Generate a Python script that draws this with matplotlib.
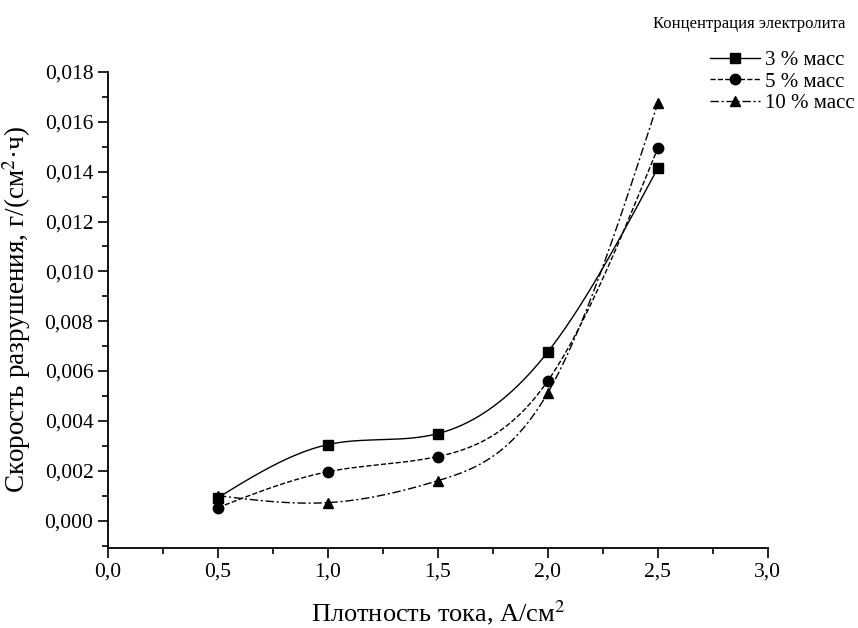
import numpy as np
import matplotlib.pyplot as plt
from matplotlib.ticker import MultipleLocator, FuncFormatter

# current density, A/cm2
current_density = [0.5, 1.0, 1.5, 2.0, 2.5]
# destruction rate, g/(cm2*h)
rate_3 = [0.00092, 0.00305, 0.00349, 0.00677, 0.01415]
rate_5 = [0.00052, 0.00196, 0.00257, 0.00561, 0.01495]
rate_10 = [0.00100, 0.00072, 0.00160, 0.00513, 0.01676]
labels = ['3 % масс', '5 % масс', '10 % масс']


def natural_spline(x, y, n=200):
    # natural cubic spline through the measured points (smooth line like Origin)
    x = np.asarray(x, float)
    y = np.asarray(y, float)
    k = len(x)
    h = np.diff(x)
    A = np.zeros((k, k))
    b = np.zeros(k)
    A[0, 0] = A[-1, -1] = 1
    for i in range(1, k - 1):
        A[i, i - 1] = h[i - 1]
        A[i, i] = 2 * (h[i - 1] + h[i])
        A[i, i + 1] = h[i]
        b[i] = 3 * ((y[i + 1] - y[i]) / h[i] - (y[i] - y[i - 1]) / h[i - 1])
    c = np.linalg.solve(A, b)
    xs = np.linspace(x[0], x[-1], n)
    idx = np.clip(np.searchsorted(x, xs) - 1, 0, k - 2)
    dx = xs - x[idx]
    bb = (y[idx + 1] - y[idx]) / h[idx] - h[idx] * (2 * c[idx] + c[idx + 1]) / 3
    dd = (c[idx + 1] - c[idx]) / (3 * h[idx])
    ys = y[idx] + bb * dx + c[idx] * dx ** 2 + dd * dx ** 3
    return xs, ys


plt.rcParams['font.family'] = ['Liberation Serif', 'DejaVu Serif']
plt.rcParams['mathtext.fontset'] = 'stix'

fig = plt.figure(figsize=(8.58, 6.28), dpi=100)
ax = fig.add_axes([0.1259, 0.1274, 0.769, 0.758])

styles = [('-', 's'), ('--', 'o'), ((0, (6, 2, 1.5, 2)), '^')]
handles = []
for series, label, (ls, mk) in zip([rate_3, rate_5, rate_10], labels, styles):
    xs, ys = natural_spline(current_density, series)
    ax.plot(xs, ys, color='black', linestyle=ls, linewidth=1.0)
    ax.plot(current_density, series, linestyle='none', marker=mk, color='black', markersize=7.5)
    h, = ax.plot([], [], color='black', linestyle=ls, linewidth=1.0, marker=mk, markersize=7.5, label=label)
    handles.append(h)

ax.set_xlim(0, 3.0)
ax.set_ylim(-0.0011, 0.018)
ax.xaxis.set_major_locator(MultipleLocator(0.5))
ax.xaxis.set_minor_locator(MultipleLocator(0.25))
ax.yaxis.set_major_locator(MultipleLocator(0.002))
ax.yaxis.set_minor_locator(MultipleLocator(0.001))
ax.xaxis.set_major_formatter(FuncFormatter(lambda v, p: f'{v:.1f}'.replace('.', ',')))
ax.yaxis.set_major_formatter(FuncFormatter(lambda v, p: f'{v:.3f}'.replace('.', ',')))
ax.tick_params(which='major', direction='out', length=7, width=1.2, labelsize=15.5)
ax.tick_params(which='minor', direction='out', length=4, width=1.2)
ax.spines['top'].set_visible(False)
ax.spines['right'].set_visible(False)
ax.spines['left'].set_linewidth(1.3)
ax.spines['bottom'].set_linewidth(1.3)

ax.set_xlabel('Плотность тока, А/см$^2$', fontsize=19, labelpad=12)
ax.set_ylabel('Скорость разрушения, г/(см$^2$·ч)', fontsize=19.5, labelpad=8)

fig.text(0.985, 0.962, 'Концентрация электролита', ha='right', va='center', fontsize=12)
fig.legend(handles=handles, loc='upper right', bbox_to_anchor=(0.996, 0.919),
           frameon=False, fontsize=15, handlelength=2.4, labelspacing=0.08,
           handletextpad=0.25, borderpad=0, borderaxespad=0)

fig.savefig('out.png', dpi=100)
